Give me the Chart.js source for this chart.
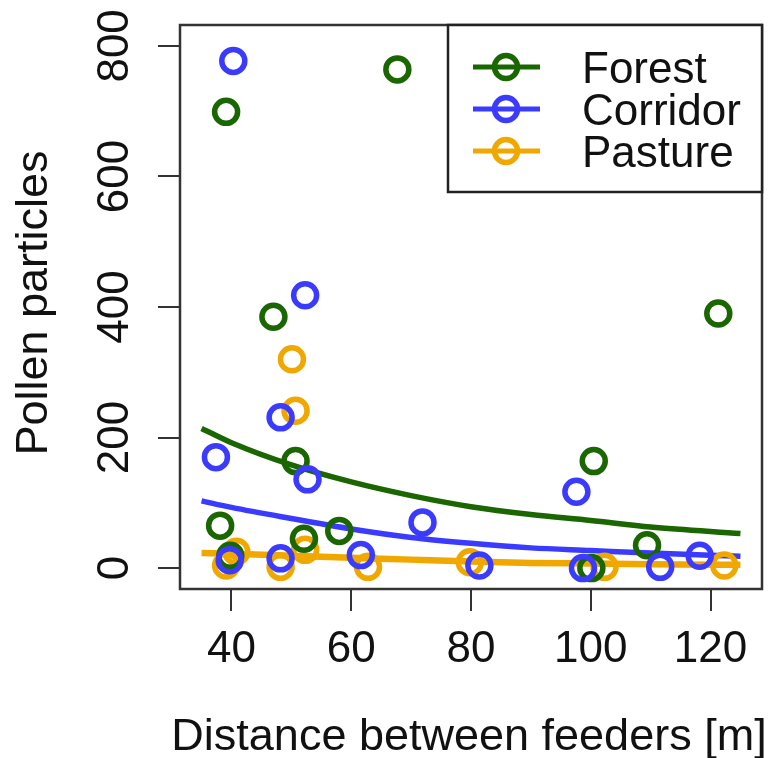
<!DOCTYPE html>
<html>
<head>
<meta charset="utf-8">
<script src="https://cdn.jsdelivr.net/npm/chart.js@4.4.0/dist/chart.umd.min.js"></script>
<style>
  body { margin: 0; background: #fff; }
  #wrap { width: 779px; height: 758px; position: relative; }
</style>
</head>
<body>
<div id="wrap"><canvas id="grafico"></canvas></div>
<script>
// Hábitats y colores
const habitats = ['Forest', 'Corridor', 'Pasture'];
const colores = ['#1a6600', '#3b3bff', '#f0a800'];

// Puntos observados: distancia [m] y partículas de polen
const forestX = [39.1, 67.7, 47.0, 50.7, 38.1, 39.8, 52.1, 58.0, 100.5, 109.4, 121.3, 100.1];
const forestY = [699, 764, 385, 164, 65, 19, 45, 57, 164, 35, 390, 0];

const corridorX = [40.3, 52.3, 48.2, 37.4, 52.7, 39.7, 48.2, 61.6, 71.9, 97.6, 81.4, 98.7, 111.6, 118.2];
const corridorY = [777, 418, 231, 170, 136, 12, 15, 20, 70, 117, 4, 0, 2, 19];

const pastureX = [50.1, 50.7, 39.1, 40.8, 48.2, 52.3, 62.8, 79.8, 102.3, 122.3];
const pastureY = [320, 241, 4, 25, 2, 28, 2, 9, 2, 4];

// Curvas ajustadas
const curvaX = [35, 40, 50, 60, 70, 80, 90, 100, 110, 125];
const curvaForest = [214, 192, 158, 132, 111, 94, 82, 73, 63, 53];
const curvaCorridor = [103, 93, 76, 60, 47, 38, 31, 27, 23, 18];
const curvaPasture = [23, 22, 19, 16, 13, 10, 8, 7, 6, 5];

const xTicks = [40, 60, 80, 100, 120];
const yTicks = [0, 200, 400, 600, 800];

const fuente = "'Liberation Sans', Arial, sans-serif";

function puntos(xs, ys) {
  return xs.map((x, i) => ({ x: x, y: ys[i] }));
}

const curvas = [curvaForest, curvaCorridor, curvaPasture];
const obsX = [forestX, corridorX, pastureX];
const obsY = [forestY, corridorY, pastureY];
// orden de dibujo de los puntos (menor = encima)
const ordenPuntos = [1, 0, 2];

const datasets = [];
habitats.forEach((h, i) => {
  datasets.push({
    type: 'scatter',
    label: h,
    data: puntos(obsX[i], obsY[i]),
    borderColor: colores[i],
    backgroundColor: 'rgba(0,0,0,0)',
    pointRadius: 11.5,
    pointBorderWidth: 5.5,
    pointHoverRadius: 11.5,
    order: ordenPuntos[i]
  });
});
habitats.forEach((h, i) => {
  datasets.push({
    type: 'line',
    label: h + ' fit',
    data: puntos(curvaX, curvas[i]),
    borderColor: colores[i],
    borderWidth: i === 2 ? 6.5 : 5.5,
    pointRadius: 0,
    fill: false,
    cubicInterpolationMode: 'monotone',
    order: 10 + i
  });
});

// Caja, etiquetas del eje Y, títulos y leyenda
const extras = {
  id: 'extras',
  afterDraw(chart) {
    const ctx = chart.ctx;
    const a = chart.chartArea;
    const ys = chart.scales.y;
    ctx.save();
    ctx.strokeStyle = '#333';
    ctx.lineWidth = 2.5;
    ctx.strokeRect(a.left, a.top, a.right - a.left, a.bottom - a.top);

    ctx.fillStyle = '#111';
    ctx.font = '44px ' + fuente;
    ctx.textAlign = 'center';
    ctx.textBaseline = 'alphabetic';
    yTicks.forEach(v => {
      ctx.save();
      ctx.translate(128, ys.getPixelForValue(v));
      ctx.rotate(-Math.PI / 2);
      ctx.fillText(String(v), 0, 0);
      ctx.restore();
    });

    ctx.font = '45px ' + fuente;
    ctx.save();
    ctx.translate(47, (a.top + a.bottom) / 2 - 4);
    ctx.rotate(-Math.PI / 2);
    ctx.fillText('Pollen particles', 0, 0);
    ctx.restore();
    ctx.fillText('Distance between feeders [m]', (a.left + a.right) / 2 - 2, 750);

    // leyenda
    const lx = 448, ly = a.top, lw = a.right - 448, lh = 167;
    ctx.fillStyle = '#fff';
    ctx.fillRect(lx, ly, lw, lh);
    ctx.strokeStyle = '#222';
    ctx.lineWidth = 2.5;
    ctx.strokeRect(lx, ly, lw, lh);
    ctx.font = '44px ' + fuente;
    ctx.textAlign = 'left';
    habitats.forEach((h, i) => {
      const yy = ly + 42 + i * 42;
      ctx.strokeStyle = colores[i];
      ctx.lineWidth = 5;
      ctx.beginPath();
      ctx.moveTo(473, yy);
      ctx.lineTo(540, yy);
      ctx.stroke();
      ctx.lineWidth = 5.5;
      ctx.beginPath();
      ctx.arc(506, yy, 11.5, 0, Math.PI * 2);
      ctx.stroke();
      ctx.fillStyle = '#111';
      ctx.fillText(h, 582, yy + 16);
    });
    ctx.restore();
  }
};

new Chart(document.getElementById('grafico').getContext('2d'), {
  data: { datasets: datasets },
  options: {
    responsive: true,
    maintainAspectRatio: false,
    animation: false,
    layout: { padding: { top: 25, right: 9, left: 0, bottom: 0 } },
    plugins: {
      legend: { display: false },
      tooltip: { enabled: false }
    },
    scales: {
      x: {
        type: 'linear',
        min: 31.4,
        max: 128.6,
        afterBuildTicks: s => { s.ticks = xTicks.map(v => ({ value: v })); },
        afterFit: s => { s.height = 169; s.paddingLeft = 0; s.paddingRight = 0; },
        grid: { drawOnChartArea: false, drawTicks: true, tickLength: 22, color: '#333', lineWidth: 2 },
        border: { display: false },
        ticks: {
          color: '#111',
          padding: 12,
          maxRotation: 0,
          font: { family: fuente, size: 44 }
        }
      },
      y: {
        type: 'linear',
        min: -32,
        max: 832,
        afterBuildTicks: s => { s.ticks = yTicks.map(v => ({ value: v })); },
        afterFit: s => { s.width = 180; s.paddingTop = 0; s.paddingBottom = 0; },
        grid: { drawOnChartArea: false, drawTicks: true, tickLength: 22, color: '#333', lineWidth: 2 },
        border: { display: false },
        ticks: { display: false }
      }
    }
  },
  plugins: [extras]
});
</script>
</body>
</html>
